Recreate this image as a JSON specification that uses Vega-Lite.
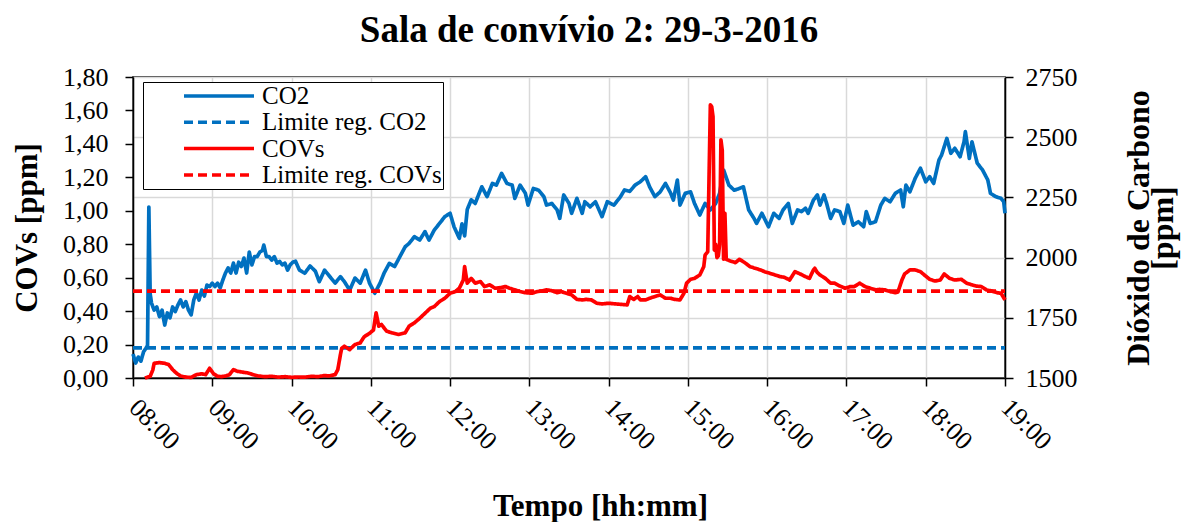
{"$schema":"https://vega.github.io/schema/vega-lite/v6.json","width":872,"height":301,"autosize":{"type":"none"},"padding":{"left":133,"top":77,"right":176,"bottom":144},"background":"white",
"config":{"font":"Liberation Serif","view":{"stroke":"black","strokeWidth":1.5},"axis":{"domainColor":"black","tickColor":"black","labelColor":"black","titleColor":"black","domainWidth":1.5,"tickWidth":1.5,"labelFontSize":26,"titleFontSize":31,"titleFontWeight":"bold","labelFont":"Liberation Serif","titleFont":"Liberation Serif"}},
"title":{"text":"Sala de convívio 2: 29-3-2016","font":"Liberation Serif","fontSize":37,"fontWeight":"bold","color":"black","anchor":"middle","baseline":"alphabetic","offset":-15,"dx":20},
"data":{"format":{"parse":{"t":"date:'%H:%M'"}},"values":[
{"t":"08:00","s":"CO2","v":1600},{"t":"08:02","s":"CO2","v":1562},{"t":"08:04","s":"CO2","v":1587},{"t":"08:06","s":"CO2","v":1570},{"t":"08:08","s":"CO2","v":1609},{"t":"08:10","s":"CO2","v":1625},{"t":"08:11","s":"CO2","v":1635},{"t":"08:12","s":"CO2","v":2210},{"t":"08:13","s":"CO2","v":1850},{"t":"08:14","s":"CO2","v":1811},{"t":"08:16","s":"CO2","v":1782},{"t":"08:18","s":"CO2","v":1795},{"t":"08:20","s":"CO2","v":1755},{"t":"08:22","s":"CO2","v":1782},{"t":"08:24","s":"CO2","v":1720},{"t":"08:26","s":"CO2","v":1770},{"t":"08:28","s":"CO2","v":1750},{"t":"08:30","s":"CO2","v":1795},{"t":"08:32","s":"CO2","v":1776},{"t":"08:34","s":"CO2","v":1803},{"t":"08:36","s":"CO2","v":1824},{"t":"08:38","s":"CO2","v":1795},{"t":"08:40","s":"CO2","v":1817},{"t":"08:42","s":"CO2","v":1782},{"t":"08:44","s":"CO2","v":1762},{"t":"08:46","s":"CO2","v":1824},{"t":"08:48","s":"CO2","v":1853},{"t":"08:50","s":"CO2","v":1824},{"t":"08:52","s":"CO2","v":1865},{"t":"08:54","s":"CO2","v":1840},{"t":"08:56","s":"CO2","v":1886},{"t":"08:58","s":"CO2","v":1880},{"t":"09:00","s":"CO2","v":1894},{"t":"09:02","s":"CO2","v":1880},{"t":"09:04","s":"CO2","v":1894},{"t":"09:06","s":"CO2","v":1874},{"t":"09:08","s":"CO2","v":1907},{"t":"09:10","s":"CO2","v":1936},{"t":"09:12","s":"CO2","v":1957},{"t":"09:14","s":"CO2","v":1936},{"t":"09:16","s":"CO2","v":1977},{"t":"09:18","s":"CO2","v":1936},{"t":"09:20","s":"CO2","v":1981},{"t":"09:22","s":"CO2","v":1963},{"t":"09:24","s":"CO2","v":1998},{"t":"09:26","s":"CO2","v":1936},{"t":"09:28","s":"CO2","v":2023},{"t":"09:30","s":"CO2","v":1970},{"t":"09:32","s":"CO2","v":2004},{"t":"09:34","s":"CO2","v":2004},{"t":"09:36","s":"CO2","v":2023},{"t":"09:38","s":"CO2","v":2030},{"t":"09:39","s":"CO2","v":2052},{"t":"09:41","s":"CO2","v":2004},{"t":"09:43","s":"CO2","v":2004},{"t":"09:45","s":"CO2","v":1990},{"t":"09:47","s":"CO2","v":2004},{"t":"09:49","s":"CO2","v":1977},{"t":"09:51","s":"CO2","v":1984},{"t":"09:53","s":"CO2","v":1970},{"t":"09:55","s":"CO2","v":1977},{"t":"09:57","s":"CO2","v":1948},{"t":"09:59","s":"CO2","v":1970},{"t":"10:01","s":"CO2","v":1981},{"t":"10:03","s":"CO2","v":1985},{"t":"10:06","s":"CO2","v":1948},{"t":"10:10","s":"CO2","v":1935},{"t":"10:14","s":"CO2","v":1965},{"t":"10:18","s":"CO2","v":1944},{"t":"10:21","s":"CO2","v":1900},{"t":"10:25","s":"CO2","v":1948},{"t":"10:29","s":"CO2","v":1921},{"t":"10:33","s":"CO2","v":1894},{"t":"10:37","s":"CO2","v":1921},{"t":"10:40","s":"CO2","v":1900},{"t":"10:44","s":"CO2","v":1865},{"t":"10:48","s":"CO2","v":1915},{"t":"10:52","s":"CO2","v":1894},{"t":"10:56","s":"CO2","v":1948},{"t":"10:59","s":"CO2","v":1894},{"t":"11:03","s":"CO2","v":1852},{"t":"11:07","s":"CO2","v":1894},{"t":"11:10","s":"CO2","v":1935},{"t":"11:14","s":"CO2","v":1976},{"t":"11:18","s":"CO2","v":1963},{"t":"11:22","s":"CO2","v":2004},{"t":"11:26","s":"CO2","v":2045},{"t":"11:29","s":"CO2","v":2059},{"t":"11:33","s":"CO2","v":2087},{"t":"11:37","s":"CO2","v":2073},{"t":"11:41","s":"CO2","v":2108},{"t":"11:44","s":"CO2","v":2073},{"t":"11:48","s":"CO2","v":2114},{"t":"11:52","s":"CO2","v":2142},{"t":"11:56","s":"CO2","v":2170},{"t":"12:00","s":"CO2","v":2184},{"t":"12:03","s":"CO2","v":2128},{"t":"12:07","s":"CO2","v":2080},{"t":"12:09","s":"CO2","v":2140},{"t":"12:11","s":"CO2","v":2090},{"t":"12:13","s":"CO2","v":2200},{"t":"12:16","s":"CO2","v":2240},{"t":"12:19","s":"CO2","v":2225},{"t":"12:21","s":"CO2","v":2253},{"t":"12:24","s":"CO2","v":2294},{"t":"12:28","s":"CO2","v":2253},{"t":"12:32","s":"CO2","v":2308},{"t":"12:35","s":"CO2","v":2301},{"t":"12:39","s":"CO2","v":2350},{"t":"12:43","s":"CO2","v":2308},{"t":"12:47","s":"CO2","v":2301},{"t":"12:49","s":"CO2","v":2246},{"t":"12:53","s":"CO2","v":2301},{"t":"12:57","s":"CO2","v":2267},{"t":"12:59","s":"CO2","v":2218},{"t":"13:03","s":"CO2","v":2287},{"t":"13:07","s":"CO2","v":2280},{"t":"13:11","s":"CO2","v":2253},{"t":"13:13","s":"CO2","v":2218},{"t":"13:17","s":"CO2","v":2225},{"t":"13:21","s":"CO2","v":2198},{"t":"13:23","s":"CO2","v":2163},{"t":"13:26","s":"CO2","v":2260},{"t":"13:30","s":"CO2","v":2225},{"t":"13:32","s":"CO2","v":2184},{"t":"13:36","s":"CO2","v":2246},{"t":"13:40","s":"CO2","v":2184},{"t":"13:42","s":"CO2","v":2232},{"t":"13:46","s":"CO2","v":2211},{"t":"13:50","s":"CO2","v":2232},{"t":"13:55","s":"CO2","v":2170},{"t":"13:59","s":"CO2","v":2232},{"t":"14:04","s":"CO2","v":2218},{"t":"14:09","s":"CO2","v":2253},{"t":"14:12","s":"CO2","v":2281},{"t":"14:16","s":"CO2","v":2275},{"t":"14:20","s":"CO2","v":2301},{"t":"14:24","s":"CO2","v":2315},{"t":"14:28","s":"CO2","v":2336},{"t":"14:31","s":"CO2","v":2294},{"t":"14:35","s":"CO2","v":2253},{"t":"14:39","s":"CO2","v":2273},{"t":"14:43","s":"CO2","v":2308},{"t":"14:47","s":"CO2","v":2267},{"t":"14:49","s":"CO2","v":2239},{"t":"14:52","s":"CO2","v":2322},{"t":"14:54","s":"CO2","v":2218},{"t":"14:58","s":"CO2","v":2267},{"t":"15:02","s":"CO2","v":2273},{"t":"15:05","s":"CO2","v":2225},{"t":"15:09","s":"CO2","v":2177},{"t":"15:13","s":"CO2","v":2225},{"t":"15:17","s":"CO2","v":2198},{"t":"15:21","s":"CO2","v":2225},{"t":"15:24","s":"CO2","v":2267},{"t":"15:27","s":"CO2","v":2364},{"t":"15:31","s":"CO2","v":2301},{"t":"15:35","s":"CO2","v":2280},{"t":"15:38","s":"CO2","v":2285},{"t":"15:42","s":"CO2","v":2294},{"t":"15:46","s":"CO2","v":2198},{"t":"15:50","s":"CO2","v":2163},{"t":"15:52","s":"CO2","v":2142},{"t":"15:56","s":"CO2","v":2184},{"t":"16:01","s":"CO2","v":2128},{"t":"16:05","s":"CO2","v":2184},{"t":"16:09","s":"CO2","v":2163},{"t":"16:12","s":"CO2","v":2198},{"t":"16:16","s":"CO2","v":2225},{"t":"16:19","s":"CO2","v":2142},{"t":"16:23","s":"CO2","v":2198},{"t":"16:26","s":"CO2","v":2191},{"t":"16:29","s":"CO2","v":2205},{"t":"16:31","s":"CO2","v":2184},{"t":"16:35","s":"CO2","v":2239},{"t":"16:38","s":"CO2","v":2260},{"t":"16:40","s":"CO2","v":2218},{"t":"16:43","s":"CO2","v":2260},{"t":"16:45","s":"CO2","v":2225},{"t":"16:48","s":"CO2","v":2163},{"t":"16:51","s":"CO2","v":2198},{"t":"16:55","s":"CO2","v":2191},{"t":"16:58","s":"CO2","v":2142},{"t":"17:01","s":"CO2","v":2218},{"t":"17:05","s":"CO2","v":2135},{"t":"17:09","s":"CO2","v":2149},{"t":"17:13","s":"CO2","v":2128},{"t":"17:15","s":"CO2","v":2191},{"t":"17:18","s":"CO2","v":2142},{"t":"17:22","s":"CO2","v":2149},{"t":"17:26","s":"CO2","v":2218},{"t":"17:29","s":"CO2","v":2246},{"t":"17:33","s":"CO2","v":2232},{"t":"17:37","s":"CO2","v":2267},{"t":"17:41","s":"CO2","v":2281},{"t":"17:43","s":"CO2","v":2211},{"t":"17:45","s":"CO2","v":2301},{"t":"17:48","s":"CO2","v":2273},{"t":"17:52","s":"CO2","v":2329},{"t":"17:56","s":"CO2","v":2371},{"t":"18:00","s":"CO2","v":2315},{"t":"18:03","s":"CO2","v":2336},{"t":"18:06","s":"CO2","v":2308},{"t":"18:10","s":"CO2","v":2405},{"t":"18:12","s":"CO2","v":2426},{"t":"18:16","s":"CO2","v":2495},{"t":"18:19","s":"CO2","v":2433},{"t":"18:22","s":"CO2","v":2454},{"t":"18:26","s":"CO2","v":2419},{"t":"18:29","s":"CO2","v":2481},{"t":"18:30","s":"CO2","v":2523},{"t":"18:33","s":"CO2","v":2412},{"t":"18:35","s":"CO2","v":2481},{"t":"18:39","s":"CO2","v":2392},{"t":"18:43","s":"CO2","v":2364},{"t":"18:47","s":"CO2","v":2322},{"t":"18:49","s":"CO2","v":2267},{"t":"18:53","s":"CO2","v":2253},{"t":"18:57","s":"CO2","v":2246},{"t":"18:59","s":"CO2","v":2232},{"t":"19:00","s":"CO2","v":2184},
{"t":"08:00","s":"Limite reg. CO2","v":1625},{"t":"19:00","s":"Limite reg. CO2","v":1625},
{"t":"08:00","s":"Limite reg. COVs","v":0.52},{"t":"19:00","s":"Limite reg. COVs","v":0.52},
{"t":"08:09","s":"COVs","v":0},{"t":"08:13","s":"COVs","v":0.01},{"t":"08:15","s":"COVs","v":0.048},{"t":"08:16","s":"COVs","v":0.088},{"t":"08:20","s":"COVs","v":0.092},{"t":"08:24","s":"COVs","v":0.088},{"t":"08:27","s":"COVs","v":0.08},{"t":"08:30","s":"COVs","v":0.05},{"t":"08:33","s":"COVs","v":0.028},{"t":"08:36","s":"COVs","v":0.012},{"t":"08:40","s":"COVs","v":0.005},{"t":"08:44","s":"COVs","v":0.004},{"t":"08:48","s":"COVs","v":0.02},{"t":"08:52","s":"COVs","v":0.025},{"t":"08:55","s":"COVs","v":0.02},{"t":"08:58","s":"COVs","v":0.058},{"t":"09:01","s":"COVs","v":0.025},{"t":"09:04","s":"COVs","v":0.01},{"t":"09:07","s":"COVs","v":0.008},{"t":"09:10","s":"COVs","v":0.012},{"t":"09:13","s":"COVs","v":0.02},{"t":"09:16","s":"COVs","v":0.05},{"t":"09:19","s":"COVs","v":0.04},{"t":"09:23","s":"COVs","v":0.035},{"t":"09:27","s":"COVs","v":0.03},{"t":"09:31","s":"COVs","v":0.02},{"t":"09:35","s":"COVs","v":0.012},{"t":"09:40","s":"COVs","v":0.008},{"t":"09:45","s":"COVs","v":0.01},{"t":"09:50","s":"COVs","v":0.005},{"t":"09:55","s":"COVs","v":0.008},{"t":"10:00","s":"COVs","v":0.004},{"t":"10:05","s":"COVs","v":0.006},{"t":"10:10","s":"COVs","v":0.005},{"t":"10:15","s":"COVs","v":0.01},{"t":"10:20","s":"COVs","v":0.008},{"t":"10:25","s":"COVs","v":0.015},{"t":"10:28","s":"COVs","v":0.012},{"t":"10:33","s":"COVs","v":0.02},{"t":"10:35","s":"COVs","v":0.05},{"t":"10:37","s":"COVs","v":0.14},{"t":"10:38","s":"COVs","v":0.178},{"t":"10:40","s":"COVs","v":0.19},{"t":"10:44","s":"COVs","v":0.17},{"t":"10:48","s":"COVs","v":0.2},{"t":"10:52","s":"COVs","v":0.21},{"t":"10:55","s":"COVs","v":0.247},{"t":"10:59","s":"COVs","v":0.267},{"t":"11:02","s":"COVs","v":0.287},{"t":"11:04","s":"COVs","v":0.39},{"t":"11:06","s":"COVs","v":0.31},{"t":"11:08","s":"COVs","v":0.32},{"t":"11:12","s":"COVs","v":0.28},{"t":"11:16","s":"COVs","v":0.27},{"t":"11:21","s":"COVs","v":0.26},{"t":"11:26","s":"COVs","v":0.27},{"t":"11:29","s":"COVs","v":0.31},{"t":"11:33","s":"COVs","v":0.33},{"t":"11:37","s":"COVs","v":0.357},{"t":"11:41","s":"COVs","v":0.387},{"t":"11:45","s":"COVs","v":0.417},{"t":"11:48","s":"COVs","v":0.427},{"t":"11:52","s":"COVs","v":0.457},{"t":"11:56","s":"COVs","v":0.477},{"t":"12:00","s":"COVs","v":0.507},{"t":"12:04","s":"COVs","v":0.517},{"t":"12:07","s":"COVs","v":0.537},{"t":"12:10","s":"COVs","v":0.586},{"t":"12:11","s":"COVs","v":0.666},{"t":"12:13","s":"COVs","v":0.567},{"t":"12:16","s":"COVs","v":0.596},{"t":"12:19","s":"COVs","v":0.567},{"t":"12:23","s":"COVs","v":0.577},{"t":"12:26","s":"COVs","v":0.547},{"t":"12:30","s":"COVs","v":0.557},{"t":"12:34","s":"COVs","v":0.537},{"t":"12:38","s":"COVs","v":0.54},{"t":"12:42","s":"COVs","v":0.547},{"t":"12:45","s":"COVs","v":0.537},{"t":"12:49","s":"COVs","v":0.527},{"t":"12:53","s":"COVs","v":0.517},{"t":"12:57","s":"COVs","v":0.51},{"t":"13:02","s":"COVs","v":0.507},{"t":"13:06","s":"COVs","v":0.517},{"t":"13:09","s":"COVs","v":0.52},{"t":"13:13","s":"COVs","v":0.527},{"t":"13:17","s":"COVs","v":0.522},{"t":"13:21","s":"COVs","v":0.51},{"t":"13:24","s":"COVs","v":0.517},{"t":"13:28","s":"COVs","v":0.507},{"t":"13:32","s":"COVs","v":0.497},{"t":"13:36","s":"COVs","v":0.47},{"t":"13:40","s":"COVs","v":0.467},{"t":"13:43","s":"COVs","v":0.47},{"t":"13:47","s":"COVs","v":0.467},{"t":"13:51","s":"COVs","v":0.447},{"t":"13:55","s":"COVs","v":0.443},{"t":"14:00","s":"COVs","v":0.447},{"t":"14:05","s":"COVs","v":0.443},{"t":"14:10","s":"COVs","v":0.44},{"t":"14:14","s":"COVs","v":0.437},{"t":"14:16","s":"COVs","v":0.487},{"t":"14:19","s":"COVs","v":0.47},{"t":"14:22","s":"COVs","v":0.487},{"t":"14:24","s":"COVs","v":0.467},{"t":"14:28","s":"COVs","v":0.467},{"t":"14:31","s":"COVs","v":0.477},{"t":"14:35","s":"COVs","v":0.487},{"t":"14:39","s":"COVs","v":0.497},{"t":"14:43","s":"COVs","v":0.477},{"t":"14:47","s":"COVs","v":0.477},{"t":"14:50","s":"COVs","v":0.47},{"t":"14:54","s":"COVs","v":0.467},{"t":"14:57","s":"COVs","v":0.507},{"t":"14:59","s":"COVs","v":0.567},{"t":"15:02","s":"COVs","v":0.59},{"t":"15:05","s":"COVs","v":0.596},{"t":"15:09","s":"COVs","v":0.616},{"t":"15:12","s":"COVs","v":0.666},{"t":"15:13","s":"COVs","v":0.735},{"t":"15:15","s":"COVs","v":0.755},{"t":"15:16","s":"COVs","v":1.2},{"t":"15:17","s":"COVs","v":1.633},{"t":"15:18","s":"COVs","v":1.623},{"t":"15:19","s":"COVs","v":1.563},{"t":"15:20","s":"COVs","v":0.765},{"t":"15:21","s":"COVs","v":0.8},{"t":"15:22","s":"COVs","v":0.72},{"t":"15:23","s":"COVs","v":0.73},{"t":"15:24","s":"COVs","v":0.8},{"t":"15:25","s":"COVs","v":1.424},{"t":"15:26","s":"COVs","v":1.36},{"t":"15:27","s":"COVs","v":0.71},{"t":"15:28","s":"COVs","v":0.985},{"t":"15:29","s":"COVs","v":0.71},{"t":"15:32","s":"COVs","v":0.7},{"t":"15:36","s":"COVs","v":0.69},{"t":"15:39","s":"COVs","v":0.71},{"t":"15:43","s":"COVs","v":0.69},{"t":"15:47","s":"COVs","v":0.666},{"t":"15:51","s":"COVs","v":0.656},{"t":"15:55","s":"COVs","v":0.646},{"t":"15:58","s":"COVs","v":0.636},{"t":"16:02","s":"COVs","v":0.626},{"t":"16:06","s":"COVs","v":0.616},{"t":"16:10","s":"COVs","v":0.606},{"t":"16:13","s":"COVs","v":0.602},{"t":"16:17","s":"COVs","v":0.586},{"t":"16:21","s":"COVs","v":0.636},{"t":"16:25","s":"COVs","v":0.622},{"t":"16:29","s":"COVs","v":0.606},{"t":"16:32","s":"COVs","v":0.596},{"t":"16:35","s":"COVs","v":0.646},{"t":"16:36","s":"COVs","v":0.656},{"t":"16:38","s":"COVs","v":0.63},{"t":"16:40","s":"COVs","v":0.616},{"t":"16:44","s":"COVs","v":0.596},{"t":"16:48","s":"COVs","v":0.567},{"t":"16:51","s":"COVs","v":0.567},{"t":"16:55","s":"COVs","v":0.55},{"t":"16:59","s":"COVs","v":0.537},{"t":"17:03","s":"COVs","v":0.547},{"t":"17:06","s":"COVs","v":0.547},{"t":"17:10","s":"COVs","v":0.567},{"t":"17:14","s":"COVs","v":0.547},{"t":"17:18","s":"COVs","v":0.537},{"t":"17:22","s":"COVs","v":0.527},{"t":"17:25","s":"COVs","v":0.53},{"t":"17:29","s":"COVs","v":0.527},{"t":"17:33","s":"COVs","v":0.517},{"t":"17:37","s":"COVs","v":0.51},{"t":"17:39","s":"COVs","v":0.515},{"t":"17:42","s":"COVs","v":0.586},{"t":"17:44","s":"COVs","v":0.622},{"t":"17:48","s":"COVs","v":0.646},{"t":"17:52","s":"COVs","v":0.646},{"t":"17:56","s":"COVs","v":0.636},{"t":"17:59","s":"COVs","v":0.616},{"t":"18:03","s":"COVs","v":0.59},{"t":"18:07","s":"COVs","v":0.58},{"t":"18:11","s":"COVs","v":0.586},{"t":"18:14","s":"COVs","v":0.622},{"t":"18:18","s":"COVs","v":0.596},{"t":"18:22","s":"COVs","v":0.586},{"t":"18:27","s":"COVs","v":0.59},{"t":"18:31","s":"COVs","v":0.567},{"t":"18:35","s":"COVs","v":0.557},{"t":"18:38","s":"COVs","v":0.55},{"t":"18:42","s":"COVs","v":0.547},{"t":"18:46","s":"COVs","v":0.527},{"t":"18:50","s":"COVs","v":0.52},{"t":"18:54","s":"COVs","v":0.51},{"t":"18:57","s":"COVs","v":0.507},{"t":"19:00","s":"COVs","v":0.467}
]},
"encoding":{
"x":{"field":"t","type":"temporal","scale":{"domain":[{"year":1900,"month":1,"date":1,"hours":8},{"year":1900,"month":1,"date":1,"hours":19}]},"axis":{"title":"Tempo [hh:mm]","format":"%H:%M","values":[{"year":1900,"month":1,"date":1,"hours":8},{"year":1900,"month":1,"date":1,"hours":9},{"year":1900,"month":1,"date":1,"hours":10},{"year":1900,"month":1,"date":1,"hours":11},{"year":1900,"month":1,"date":1,"hours":12},{"year":1900,"month":1,"date":1,"hours":13},{"year":1900,"month":1,"date":1,"hours":14},{"year":1900,"month":1,"date":1,"hours":15},{"year":1900,"month":1,"date":1,"hours":16},{"year":1900,"month":1,"date":1,"hours":17},{"year":1900,"month":1,"date":1,"hours":18},{"year":1900,"month":1,"date":1,"hours":19}],"labelAngle":45,"labelOffset":9,"tickSize":8,"labelPadding":8,"labelFlush":false,"labelOverlap":false,"grid":true,"gridColor":"#D9D9D9","gridWidth":1.5,"titleX":467,"titleY":137,"titleAlign":"center","titleBaseline":"alphabetic"}},
"color":{"field":"s","type":"nominal","scale":{"domain":["CO2","Limite reg. CO2","COVs","Limite reg. COVs"],"range":["#0070C0","#0070C0","#FF0000","#FF0000"]},"legend":{"title":null,"orient":"none","legendX":10,"legendY":5,"symbolType":"stroke","symbolSize":4900,"symbolStrokeWidth":3.5,"symbolOffset":38,"labelOffset":6,"labelLimit":400,"clipHeight":26,"rowPadding":0.3,"padding":1,"labelFontSize":25,"labelColor":"black","strokeColor":"black","fillColor":"white"}},
"strokeDash":{"field":"s","type":"nominal","scale":{"domain":["CO2","Limite reg. CO2","COVs","Limite reg. COVs"],"range":[[1,0],[9,5],[1,0],[9,5]]},"legend":{"title":null,"orient":"none","legendX":10,"legendY":5,"symbolType":"stroke","symbolSize":4900,"symbolStrokeWidth":3.5,"symbolOffset":38,"labelOffset":6,"labelLimit":400,"clipHeight":26,"rowPadding":0.3,"padding":1,"labelFontSize":25,"labelColor":"black","strokeColor":"black","fillColor":"white"}}
},
"layer":[
{"transform":[{"filter":{"field":"s","oneOf":["CO2","Limite reg. CO2"]}}],"mark":{"type":"line","strokeWidth":3.7,"strokeJoin":"round"},"encoding":{"y":{"field":"v","type":"quantitative","scale":{"domain":[1500,2750],"nice":false,"zero":false},"axis":{"orient":"right","title":["Dióxido de Carbono","[ppm]"],"values":[1500,1750,2000,2250,2500,2750],"format":"d","grid":true,"gridColor":"#D9D9D9","gridWidth":1.5,"tickSize":8,"labelPadding":12,"titleAngle":270,"titleX":143,"titleY":150.5,"titleAlign":"center","titleBaseline":"alphabetic","titleLineHeight":24,"titleFontSize":32}}}},
{"transform":[{"filter":{"field":"s","oneOf":["COVs","Limite reg. COVs"]}}],"mark":{"type":"line","strokeWidth":3.7,"strokeJoin":"round"},"encoding":{"y":{"field":"v","type":"quantitative","scale":{"domain":[0,1.8],"nice":false,"zero":false},"axis":{"orient":"left","title":"COVs [ppm]","values":[0,0.2,0.4,0.6,0.8,1,1.2,1.4,1.6,1.8],"labelExpr":"replace(format(datum.value,'.2f'),'.',',')","grid":false,"tickSize":8,"labelPadding":17,"titleAngle":270,"titleX":-97,"titleY":150.5,"titleAlign":"center","titleBaseline":"alphabetic"}}}}
],
"resolve":{"scale":{"y":"independent"}}
}
